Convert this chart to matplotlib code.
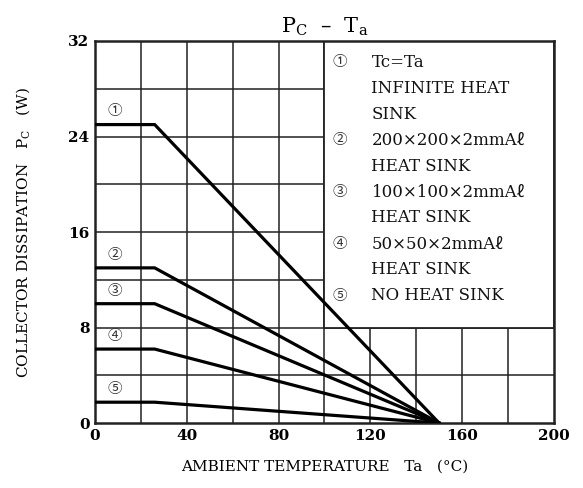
import matplotlib
matplotlib.use('Agg')
import matplotlib.pyplot as plt
from matplotlib.patches import Rectangle

plt.rcParams['font.family'] = ['DejaVu Serif', 'Noto Sans CJK JP']
plt.rcParams['mathtext.fontset'] = 'dejavuserif'

# curves: flat Pc up to knee temperature, then linear derating to 150 C
curve_ids = ['①', '②', '③', '④', '⑤']
pc_flat = [25.0, 13.0, 10.0, 6.2, 1.75]
ta_knee = [26, 26, 26, 26, 26]
ta_zero = [150, 150, 150, 150, 150]

legend_lines = [
  ('①', 'Tc=Ta'),
  ('', 'INFINITE HEAT'),
  ('', 'SINK'),
  ('②', '200×200×2mmAℓ'),
  ('', 'HEAT SINK'),
  ('③', '100×100×2mmAℓ'),
  ('', 'HEAT SINK'),
  ('④', '50×50×2mmAℓ'),
  ('', 'HEAT SINK'),
  ('⑤', 'NO HEAT SINK'),
]

x_ticks = [0, 40, 80, 120, 160, 200]
y_ticks = [0, 8, 16, 24, 32]

fig = plt.figure(figsize=(5.83, 4.88), dpi=100)
ax = fig.add_axes([0.163, 0.133, 0.787, 0.783])

ax.set_xlim(0, 200)
ax.set_ylim(0, 32)

# grid every 20 C / 4 W
for gx in range(20, 200, 20):
  ax.axvline(gx, color='#222222', lw=1.1, zorder=1)
for gy in range(4, 32, 4):
  ax.axhline(gy, color='#222222', lw=1.1, zorder=1)

# legend panel covers the upper right part of the grid
ax.add_patch(Rectangle((100, 8), 100, 24, facecolor='white',
                       edgecolor='#222222', lw=1.3, zorder=2))

for cid, p, tk, tz in zip(curve_ids, pc_flat, ta_knee, ta_zero):
  ax.plot([0, tk, tz], [p, p, 0], color='black', lw=2.3, zorder=3,
          solid_joinstyle='miter')
  ax.text(8.5, p + 1.1, cid, fontsize=10.5, ha='center', va='center',
          color='#333333', zorder=4)

row_y = 30.2
for mark, txt in legend_lines:
  if mark:
    ax.text(106.8, row_y, mark, fontsize=10.5, ha='center', va='center',
            color='#333333', zorder=4)
  ax.text(120.5, row_y, txt, fontsize=12, ha='left', va='center',
          color='#111111', zorder=4)
  row_y -= 2.17

ax.set_xticks(x_ticks)
ax.set_yticks(y_ticks)
ax.tick_params(length=0, labelsize=11, pad=4)
for lab in ax.get_xticklabels() + ax.get_yticklabels():
  lab.set_fontweight('bold')
for s in ax.spines.values():
  s.set_linewidth(1.8)
  s.set_color('#222222')

ax.set_title(r'$\mathrm{P_C}$  –  $\mathrm{T_a}$', fontsize=15, pad=6)
ax.set_xlabel(r'AMBIENT TEMPERATURE   Ta   (°C)', fontsize=11, labelpad=12)
ax.set_ylabel(r'COLLECTOR DISSIPATION   $\mathrm{P_C}$   (W)', fontsize=11,
              labelpad=26)

fig.savefig('out.png', dpi=100)
